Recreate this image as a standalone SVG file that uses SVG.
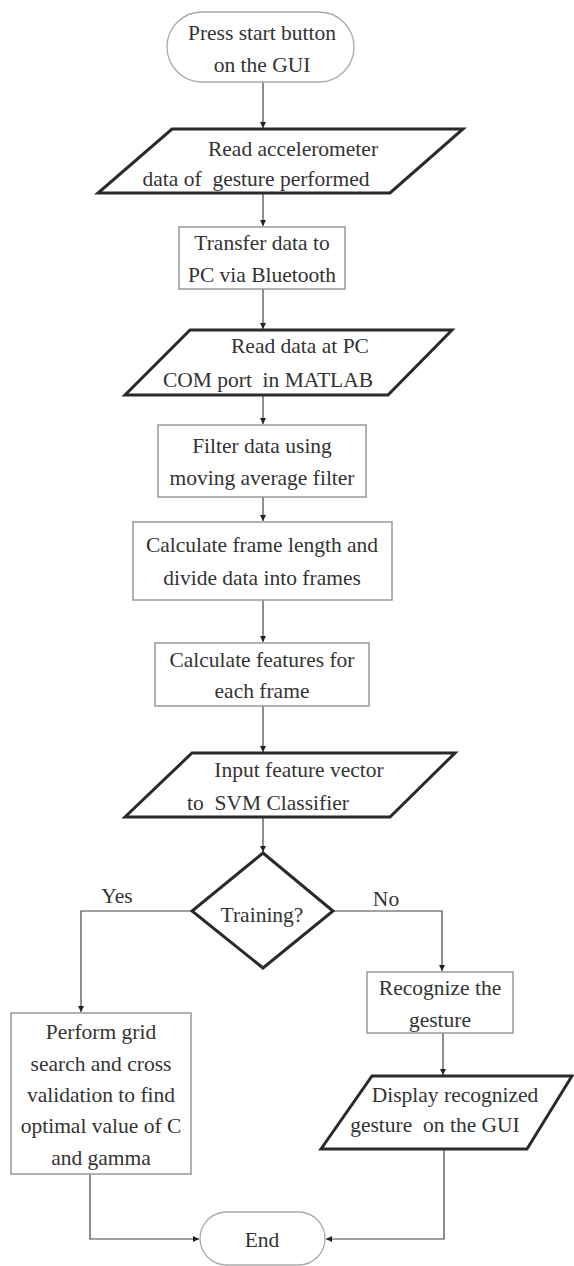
<svg xmlns="http://www.w3.org/2000/svg" width="574" height="1266" viewBox="0 0 574 1266" font-family="'Liberation Serif', 'DejaVu Serif', serif">
<style>
text{font-family:"Liberation Serif","DejaVu Serif",serif;font-size:21.5px;fill:#333;text-anchor:middle;white-space:pre}
.box{fill:#fff;stroke:#999;stroke-width:1.5}
.term{fill:#fff;stroke:#aaa;stroke-width:1.3}
.io{fill:#fff;stroke:#2a2a2a;stroke-width:3;stroke-linejoin:miter}
.dec{fill:#fff;stroke:#2a2a2a;stroke-width:3}
.con{fill:none;stroke:#444;stroke-width:1.2}
</style>
<defs>
<marker id="ah" markerUnits="userSpaceOnUse" markerWidth="8" markerHeight="8" refX="6" refY="3" orient="auto">
<path d="M0,0 L6,3 L0,6 Z" fill="#222"/>
</marker>
</defs>
<rect width="574" height="1266" fill="#fff"/>
<g id="connectors">
<path class="con" d="M263,82 V128" marker-end="url(#ah)"/>
<path class="con" d="M263,193 V226" marker-end="url(#ah)"/>
<path class="con" d="M263,289 V329" marker-end="url(#ah)"/>
<path class="con" d="M263,395 V424" marker-end="url(#ah)"/>
<path class="con" d="M263,497 V521" marker-end="url(#ah)"/>
<path class="con" d="M263,600 V642" marker-end="url(#ah)"/>
<path class="con" d="M263,706 V752" marker-end="url(#ah)"/>
<path class="con" d="M263,817 V852" marker-end="url(#ah)"/>
<path class="con" d="M192,911 H81 V1012" marker-end="url(#ah)"/>
<path class="con" d="M333,911 H442 V971" marker-end="url(#ah)"/>
<path class="con" d="M443,1033 V1075" marker-end="url(#ah)"/>
<path class="con" d="M444,1149 V1239 H326" marker-end="url(#ah)"/>
<path class="con" d="M90,1174 V1239 H199" marker-end="url(#ah)"/>
</g>
<g id="start">
<rect class="term" x="167" y="12" width="187" height="70" rx="35"/>
<text x="262" y="40">Press start button</text>
<text x="262" y="72">on the GUI</text>
</g>
<g id="read-accel">
<polygon class="io" points="172,129 463,129 390,193 98,193"/>
<text x="293" y="156">Read accelerometer</text>
<text x="256" y="186">data of  gesture performed</text>
</g>
<g id="transfer">
<rect class="box" x="179" y="227" width="166" height="62"/>
<text x="262" y="250">Transfer data to</text>
<text x="262" y="282">PC via Bluetooth</text>
</g>
<g id="read-com">
<polygon class="io" points="190,330 452,330 388,395 125,395"/>
<text x="300" y="353">Read data at PC</text>
<text x="268" y="387">COM port  in MATLAB</text>
</g>
<g id="filter">
<rect class="box" x="158" y="425" width="208" height="72"/>
<text x="262" y="453">Filter data using</text>
<text x="262" y="485">moving average filter</text>
</g>
<g id="frames">
<rect class="box" x="133" y="522" width="259" height="78"/>
<text x="262" y="552">Calculate frame length and</text>
<text x="262" y="585">divide data into frames</text>
</g>
<g id="features">
<rect class="box" x="155" y="643" width="214" height="63"/>
<text x="262" y="667">Calculate features for</text>
<text x="262" y="698">each frame</text>
</g>
<g id="input-svm">
<polygon class="io" points="192,753 455,753 390,817 125,817"/>
<text x="299" y="777">Input feature vector</text>
<text x="268" y="810">to  SVM Classifier</text>
</g>
<g id="training">
<polygon class="dec" points="263,853 333,911 263,968 192,911"/>
<text x="262" y="922">Training?</text>
</g>
<g id="labels">
<text x="117" y="903">Yes</text>
<text x="386" y="906">No</text>
</g>
<g id="grid-search">
<rect class="box" x="11" y="1013" width="180" height="161"/>
<text x="101" y="1039">Perform grid</text>
<text x="101" y="1071">search and cross</text>
<text x="101" y="1102">validation to find</text>
<text x="101" y="1133">optimal value of C</text>
<text x="101" y="1165">and gamma</text>
</g>
<g id="recognize">
<rect class="box" x="367" y="972" width="146" height="61"/>
<text x="440" y="995">Recognize the</text>
<text x="440" y="1027">gesture</text>
</g>
<g id="display">
<polygon class="io" points="372,1076 572,1076 527,1149 321,1149"/>
<text x="455" y="1102">Display recognized</text>
<text x="435" y="1132">gesture  on the GUI</text>
</g>
<g id="end">
<rect class="term" x="200" y="1212" width="125" height="53" rx="26.5"/>
<text x="262" y="1247">End</text>
</g>
</svg>
